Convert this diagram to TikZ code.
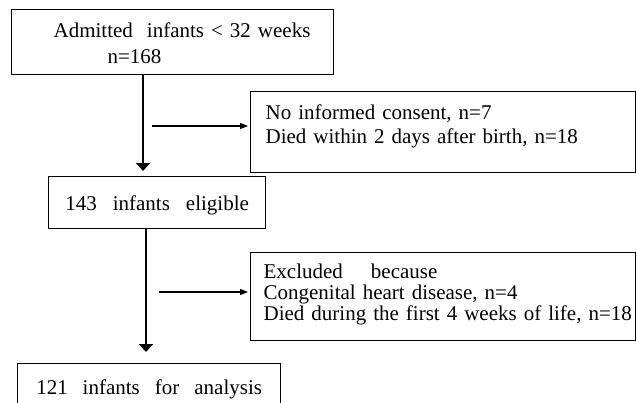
\documentclass[tikz,border=0pt]{standalone}
\usepackage{fontspec}
\setmainfont{Liberation Serif}
\usetikzlibrary{arrows.meta}

\begin{document}
\begin{tikzpicture}[x=1pt,y=-1pt,
  box/.style={draw,line width=1.3pt,anchor=north west,inner sep=0pt,font=\fontsize{21}{24}\selectfont},
  trunk/.style={line width=2pt,-{Triangle[width=14pt,length=8pt]}},
  branch/.style={line width=1.2pt,-{Triangle[width=6pt,length=8pt]},shorten >=2pt}]
  \useasboundingbox (0,0) rectangle (637,402);
  \node[box,text width=322pt,align=left,text height=28pt,text depth=37pt,font=\fontsize{21}{26}\selectfont] (admit) at (11,9)
    {\hspace*{42pt}Admitted\hspace{14pt}infants < 32 weeks\\\hspace*{96pt}n=168};
  \node[box,text width=385pt,align=left,text height=28pt,text depth=53pt] (excl1) at (250,91)
    {\hspace*{15pt}No informed consent, n=7\\\hspace*{15pt}Died within 2 days after birth, n=18};
  \node[box,minimum width=217pt,text height=34pt,text depth=18pt] (elig) at (48,176)
    {143\hspace{16pt}infants\hspace{16pt}eligible};
  \node[box,text width=385pt,align=left,text height=26pt,text depth=62pt,font=\fontsize{21}{21}\selectfont] (excl2) at (250,252)
    {\hspace*{13pt}Excluded\hspace{28pt}because\\\hspace*{13pt}Congenital heart disease, n=4\\\hspace*{13pt}Died during the first 4 weeks of life, n=18};
  \node[box,minimum width=263pt,text height=31pt,text depth=17pt] (final) at (17,363)
    {121\hspace{15pt}infants\hspace{15pt}for\hspace{15pt}analysis};
  \coordinate (t1) at (143,0);
  \coordinate (t2) at (146,0);
  \coordinate (b1) at (152,126);
  \coordinate (b2) at (159,292);
  \draw[trunk,shorten >=5pt] (admit.south -| t1) -- (elig.north -| t1);
  \draw[trunk,shorten >=11pt] (elig.south -| t2) -- (final.north -| t2);
  \draw[branch] (b1) -- (b1 -| excl1.west);
  \draw[branch] (b2) -- (b2 -| excl2.west);
\end{tikzpicture}
\end{document}
